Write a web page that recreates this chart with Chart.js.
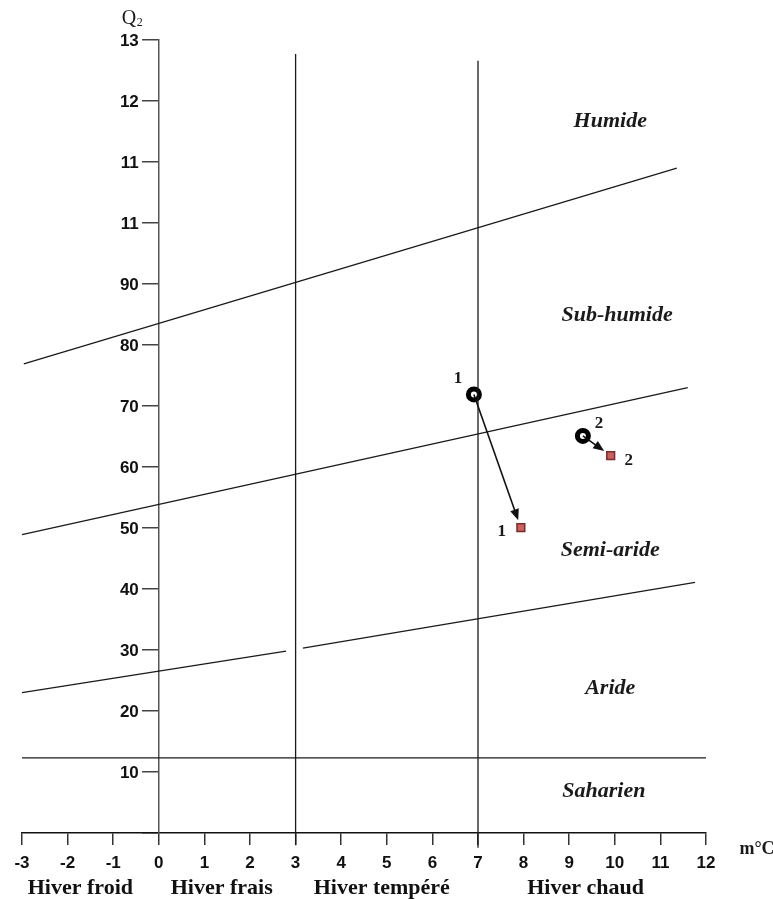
<!DOCTYPE html>
<html>
<head>
<meta charset="utf-8">
<script src="https://cdn.jsdelivr.net/npm/chart.js@4.4.1/dist/chart.umd.min.js"></script>
<style>
  html, body { margin: 0; padding: 0; background: #fff; }
</style>
</head>
<body>
<canvas id="climagram" width="773" height="899"></canvas>
<script>
// axis ticks
const xTicks = [-3, -2, -1, 0, 1, 2, 3, 4, 5, 6, 7, 8, 9, 10, 11, 12];
const yTickValues = [0, 10, 20, 30, 40, 50, 60, 70, 80, 90, 100, 110, 120, 130];
const yTickLabels = ['', '10', '20', '30', '40', '50', '60', '70', '80', '90', '11', '11', '12', '13'];

// winter types under the m axis
const winterNames = ['Hiver froid', 'Hiver frais', 'Hiver tempéré', 'Hiver chaud'];
const winterCenters = [-1.72, 1.38, 4.89, 9.36];

// bioclimatic stages
const zoneNames = ['Humide', 'Sub-humide', 'Semi-aride', 'Aride', 'Saharien'];
const zoneM = [9.9, 10.05, 9.9, 9.9, 9.76];
const zoneQ = [116.6, 84.9, 46.4, 23.8, 6.9];

// boundary lines (m, Q2)
const humideM = [-2.96, 11.36];
const humideQ = [76.9, 109.0];
const subHumideM = [-3, 11.6];
const subHumideQ = [48.9, 73.0];
const aridLeftM = [-3, 2.79];
const aridLeftQ = [23.0, 29.8];
const aridRightM = [3.16, 11.76];
const aridRightQ = [30.3, 41.1];
const saharienM = [-3, 12];
const saharienQ = [12.3, 12.3];
const fraisM = [3, 3];
const fraisQ = [-2, 127.7];
const chaudM = [7, 7];
const chaudQ = [-2.4, 126.6];

// stations: old period (circle) -> recent period (square)
const stationNames = ['1', '2'];
const oldM = [6.91, 9.30];
const oldQ = [71.9, 65.1];
const newM = [7.94, 9.91];
const newQ = [50.05, 61.85];

function pts(xs, ys) {
    return xs.map((x, i) => ({ x: x, y: ys[i] }));
}

function boundary(xs, ys) {
    return {
        type: 'line',
        data: pts(xs, ys),
        borderColor: '#1a1a1a',
        borderWidth: 1.3,
        pointRadius: 0,
        clip: false
    };
}

const serif = '"Liberation Serif", "Times New Roman", serif';
const sans = '"Liberation Sans", Arial, sans-serif';

const textPlugin = {
    id: 'texts',
    afterDatasetsDraw(chart) {
        const ctx = chart.ctx;
        const xs = chart.scales.x;
        const ys = chart.scales.y;
        const x0 = xs.getPixelForValue(0);
        ctx.save();

        // Q2 tick labels, left of the axis drawn at m = 0
        ctx.font = 'bold 17px ' + sans;
        ctx.fillStyle = '#111';
        ctx.textAlign = 'right';
        ctx.textBaseline = 'middle';
        yTickValues.forEach((v, i) => {
            ctx.fillText(yTickLabels[i], x0 - 20, ys.getPixelForValue(v) + 1);
        });

        // arrows between the two periods
        const oldMeta = chart.getDatasetMeta(7);
        const newMeta = chart.getDatasetMeta(8);
        oldMeta.data.forEach((p, i) => {
            const q = newMeta.data[i];
            const ang = Math.atan2(q.y - p.y, q.x - p.x);
            const tx = q.x - 8 * Math.cos(ang);
            const ty = q.y - 8 * Math.sin(ang);
            ctx.strokeStyle = '#111';
            ctx.fillStyle = '#111';
            ctx.lineWidth = 1.6;
            ctx.beginPath();
            ctx.moveTo(p.x, p.y);
            ctx.lineTo(tx - 9 * Math.cos(ang), ty - 9 * Math.sin(ang));
            ctx.stroke();
            ctx.beginPath();
            ctx.moveTo(tx, ty);
            ctx.lineTo(tx - 11 * Math.cos(ang) + 4.5 * Math.sin(ang), ty - 11 * Math.sin(ang) - 4.5 * Math.cos(ang));
            ctx.lineTo(tx - 11 * Math.cos(ang) - 4.5 * Math.sin(ang), ty - 11 * Math.sin(ang) + 4.5 * Math.cos(ang));
            ctx.closePath();
            ctx.fill();
        });

        // station numbers
        ctx.font = 'bold 17px ' + serif;
        ctx.fillStyle = '#1a1a1a';
        ctx.textAlign = 'center';
        const oldOff = [[-16, -16], [16, -12]];
        const newOff = [[-19, 4], [18, 5]];
        stationNames.forEach((n, i) => {
            const p = oldMeta.data[i];
            const q = newMeta.data[i];
            ctx.fillText(n, p.x + oldOff[i][0], p.y + oldOff[i][1]);
            ctx.fillText(n, q.x + newOff[i][0], q.y + newOff[i][1]);
        });

        // stage names
        ctx.font = 'italic bold 22px ' + serif;
        zoneNames.forEach((n, i) => {
            ctx.fillText(n, xs.getPixelForValue(zoneM[i]), ys.getPixelForValue(zoneQ[i]));
        });

        // axis titles
        ctx.font = '20px ' + serif;
        ctx.textAlign = 'left';
        ctx.fillText('Q', x0 - 37, chart.chartArea.top - 21);
        ctx.font = '12px ' + serif;
        ctx.fillText('2', x0 - 22, chart.chartArea.top - 17);
        ctx.font = 'bold 18px ' + serif;
        ctx.textAlign = 'center';
        ctx.fillText('m°C', chart.chartArea.right + 51, ys.bottom + 16);
        ctx.restore();
    }
};

const ctx = document.getElementById('climagram').getContext('2d');
new Chart(ctx, {
    type: 'scatter',
    data: {
        datasets: [
            boundary(humideM, humideQ),
            boundary(subHumideM, subHumideQ),
            boundary(aridLeftM, aridLeftQ),
            boundary(aridRightM, aridRightQ),
            boundary(saharienM, saharienQ),
            boundary(fraisM, fraisQ),
            boundary(chaudM, chaudQ),
            {
                label: 'ancien',
                data: pts(oldM, oldQ),
                pointStyle: 'circle',
                pointRadius: 5.5,
                pointBorderWidth: 5,
                pointBorderColor: '#000',
                pointBackgroundColor: '#fff',
                clip: false
            },
            {
                label: 'récent',
                data: pts(newM, newQ),
                pointStyle: 'rect',
                pointRadius: 5.5,
                pointBorderWidth: 1.5,
                pointBorderColor: '#7a2b2b',
                pointBackgroundColor: '#c8625e',
                clip: false
            }
        ]
    },
    options: {
        responsive: false,
        devicePixelRatio: 1,
        animation: false,
        layout: { padding: { left: 22, right: 67, top: 40, bottom: 0 } },
        plugins: {
            legend: { display: false },
            tooltip: { enabled: false }
        },
        scales: {
            x: {
                type: 'linear',
                position: 'bottom',
                min: -3,
                max: 12,
                afterBuildTicks: s => { s.ticks = xTicks.map(v => ({ value: v })); },
                afterFit: s => { s.height = 42; },
                grid: { drawOnChartArea: false, tickLength: 12, color: '#333', lineWidth: 1.5 },
                border: { color: '#111', width: 1.5 },
                ticks: {
                    autoSkip: false,
                    maxRotation: 0,
                    padding: 8,
                    color: '#111',
                    font: { family: sans, weight: 'bold', size: 17 }
                }
            },
            x2: {
                type: 'linear',
                position: 'bottom',
                min: -3,
                max: 12,
                afterBuildTicks: s => { s.ticks = winterCenters.map(v => ({ value: v })); },
                afterFit: s => { s.height = 24; },
                grid: { display: false, drawTicks: false },
                border: { display: false },
                ticks: {
                    autoSkip: false,
                    maxRotation: 0,
                    padding: 0,
                    color: '#111',
                    callback: (v, i) => winterNames[i],
                    font: { family: serif, weight: 'bold', size: 22 }
                }
            },
            y: {
                type: 'linear',
                position: { x: 0 },
                min: 0,
                max: 130,
                afterBuildTicks: s => { s.ticks = yTickValues.map(v => ({ value: v })); },
                afterFit: s => { s.width = 0; },
                grid: { drawOnChartArea: false, tickLength: 16, color: '#444', lineWidth: 1.5 },
                border: { color: '#555', width: 1.5 },
                ticks: { display: false }
            }
        }
    },
    plugins: [textPlugin]
});
</script>
</body>
</html>
